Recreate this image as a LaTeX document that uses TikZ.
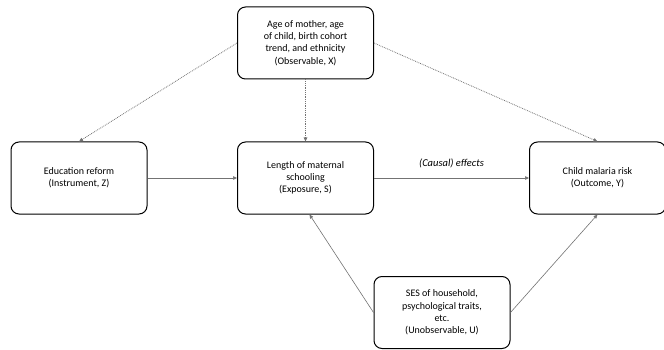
\documentclass[tikz,border=0pt]{standalone}
\usepackage{fontspec}
\setmainfont{Carlito}
\usetikzlibrary{arrows.meta}
\tikzset{
  varbox/.style={draw,rounded corners=8pt,line width=1pt,minimum width=136pt,minimum height=72pt,align=center,font=\fontsize{10}{12.3}\selectfont},
  observed/.style={densely dotted,draw=black!55,line width=0.8pt},
  effect/.style={draw=black!55,line width=0.6pt}
}
\begin{document}
\begin{tikzpicture}[x=1pt,y=-1pt,>={Triangle[length=4pt,width=3.5pt]},line join=round]
\useasboundingbox (0,0) rectangle (664,350);
\node[varbox] (obs) at (305.5,43) {Age of mother, age\\of child, birth cohort\\trend, and ethnicity\\(Observable, X)};
\node[varbox] (inst) at (79,178) {Education reform\\(Instrument, Z)};
\node[varbox] (expo) at (305.5,178) {Length of maternal\\schooling\\(Exposure, S)};
\node[varbox] (outc) at (597.5,178) {Child malaria risk\\(Outcome, Y)};
\node[varbox] (unobs) at (442,312.5) {SES of household,\\psychological traits,\\etc.\\(Unobservable, U)};
% observed confounders
\draw[observed,->] (obs.west) -- (inst.north);
\draw[observed,->] (obs.south) -- (expo.north);
\draw[observed,->] (obs.east) -- (outc.north);
% instrument and exposure
\draw[effect,->] (inst.east) -- (expo.west);
\draw[effect,->] (expo.east) -- node[above=6pt,font=\fontsize{10.5}{12}\selectfont\itshape] (lbl) {(Causal) effects} (outc.west);
% unobserved confounders
\draw[effect,->] (unobs.west) -- ([xshift=4pt]expo.south);
\draw[effect,->] (unobs.east) -- (outc.south);
\end{tikzpicture}
\end{document}
